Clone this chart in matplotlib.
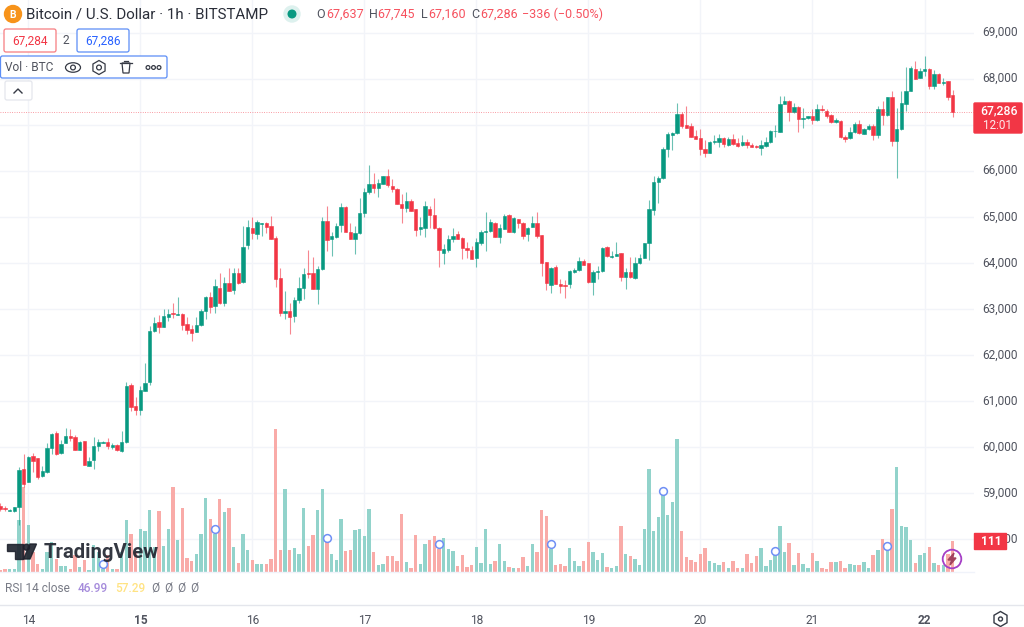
import numpy as np
import matplotlib
matplotlib.use("Agg")
import matplotlib.pyplot as plt
from matplotlib.patches import Circle, Ellipse, FancyBboxPatch, Polygon, Rectangle, RegularPolygon

plt.rcParams['font.family'] = ['Roboto', 'DejaVu Sans']

# hourly candles, first one is 13 Apr 18:00, last one 22 Apr 06:00
opens = [58720,58675,58620,58600,58690,59530,
    59250,59805,59754,59377,59450,59971,60297,59862,60094,60239,60210,59942,60138,59595,59710,60022,60094,60116,60007,60043,59920,
    60109,61354,60890,60804,61224,61419,62527,62715,62614,62831,62903,62867,62896,62664,62556,62498,62643,62954,63265,63063,63461,63120,63562,63417,63779,63584,64387,
    64764,64634,64850,64858,64800,64532,63663,62918,62947,62838,63193,63461,63779,63772,63439,63859,64901,64510,64554,
    64822,65206,64677,64525,64641,65075,65539,65705,65633,65712,65879,65669,65611,65278,65191,65350,65162,64728,64749,65162,65032,64749,64214,64286,64518,64626,64547,64322,64286,
    64105,64438,64677,64692,64873,64568,64742,65046,64670,64952,64865,64619,64778,64865,64597,64011,63526,63910,63548,63519,63540,63801,63837,64033,63989,63584,63808,63822,64337,64127,64156,64207,63685,63794,63671,63989,64105,64424,65148,65756,65835,66465,66785,
    66813,67233,66987,66972,66755,66711,66480,66393,66625,66625,66711,66559,66682,66610,66552,66632,66559,66538,66501,66545,66625,66857,66849,67450,67515,67269,67392,67131,67146,67182,67095,67341,67305,67211,67059,67081,66740,66704,66835,67016,66806,66900,66972,66776,67334,67204,67609,66646,66900,67450,67740,68210,68014,68174,68203,67848,68102,67913,67942,67638]
highs = [58790,58720,58650,58700,59560,59850,
    59800,59862,59770,59587,60094,60297,60347,60152,60420,60384,60260,60123,60138,59776,60210,60167,60130,60188,60094,60072,60347,
    61419,61396,61093,61325,61817,62628,62816,62867,62997,62997,63120,63265,62903,62830,62650,62830,62997,63280,63359,63642,63772,63685,63881,63881,63881,64800,64930,
    65003,64930,64872,64880,65017,64590,63895,63396,63120,63265,63685,63881,64279,64134,63939,65003,65235,64663,64870,
    65292,65235,64858,64800,65401,65618,66125,65944,65828,65886,66031,65821,65618,65495,65531,65380,65170,65003,65336,65235,65408,64770,64409,64605,64764,64692,64570,64460,64366,
    64532,64710,65097,64945,64895,64844,65061,65053,64985,64960,64880,64780,65025,65111,64605,64018,63910,63942,63656,63620,63850,63880,64120,64076,64003,63842,63931,64350,64366,64257,64460,64214,63881,64120,64134,64185,64435,65365,65893,65893,66523,66849,66849,
    67479,67284,67414,67045,66885,66900,66668,66654,66777,66791,66725,66725,66791,66719,66777,66690,66610,66560,66668,66726,66880,66990,67631,67624,67530,67465,67410,67356,67195,67334,67450,67428,67334,67232,67139,67103,66776,66943,67066,67103,66920,67016,67016,67414,67522,67609,67740,67356,67732,68261,68275,68384,68226,68500,68226,68190,68115,68022,67957,67754]
lows = [58620,58620,58610,58590,58310,59140,
    59240,59464,59312,59356,59443,59841,59834,59848,60094,60123,59935,59935,59602,59580,59515,59920,60087,59964,59964,59920,59898,
    60094,60789,60695,60695,61224,61339,62505,62483,62600,62744,62810,62860,62541,62454,62310,62490,62636,62780,62918,62903,63113,63070,63388,63316,63548,63555,64300,
    64518,64525,64583,64655,64510,63482,62845,62773,62454,62722,63120,63207,63678,63432,63106,63844,64257,64156,64547,
    64677,64670,64518,64185,64634,65003,65488,65524,65437,65705,65654,65531,65271,64858,65111,65126,64590,64605,64568,64749,64742,63910,63975,64243,64460,64510,64083,64098,64076,
    63917,64387,64264,64677,64554,64438,64735,64663,64656,64749,64518,64474,64771,64532,63721,63410,63338,63541,63338,63244,63446,63772,63830,63946,63555,63300,63641,63808,64134,64098,64149,63613,63425,63678,63657,63982,64098,64062,65039,65307,65814,66292,66451,
    66806,66936,66922,66726,66682,66342,66292,66378,66589,66509,66523,66538,66559,66523,66538,66501,66516,66501,66342,66523,66610,66740,66835,67450,67088,67262,66849,66922,67131,67016,67080,67305,67139,67044,67044,66719,66632,66697,66820,66806,66792,66885,66668,66719,67001,67190,66538,65850,66885,67305,67725,67986,68007,68058,67783,67771,67899,67870,67537,67160]
closes = [58650,58650,58640,58690,59500,59200,
    59775,59696,59356,59486,59971,60275,59848,60072,60239,60203,59942,60116,59609,59696,60022,60101,60116,60029,60051,59928,60101,
    61332,60876,60804,61238,61383,62527,62693,62614,62845,62896,62889,62889,62650,62541,62469,62650,62954,63265,63048,63497,63120,63569,63395,63779,63555,64351,64778,
    64648,64880,64865,64786,64518,63649,62903,62947,62824,63193,63461,63765,63765,63439,63866,64909,64503,64583,64800,
    65206,64677,64525,64641,65075,65546,65705,65625,65741,65879,65683,65604,65278,65198,65343,65133,64713,64771,65227,65046,64749,64272,64293,64511,64583,64518,64315,64272,64083,
    64445,64677,64699,64887,64568,64749,65017,64670,64967,64873,64590,64764,64865,64583,64004,63555,63895,63548,63504,63504,63830,63844,64033,63960,63577,63808,63822,64322,64141,64149,64192,63685,63794,63685,63996,64098,64424,65162,65763,65842,66473,66799,66828,
    67233,66972,66936,66740,66697,66465,66393,66632,66646,66719,66581,66682,66581,66545,66632,66559,66523,66516,66552,66625,66864,66871,67450,67515,67269,67377,67131,67146,67182,67095,67334,67312,67196,67059,67103,66733,66697,66835,67016,66813,66900,66965,66776,67334,67204,67595,66646,66907,67464,67732,68225,68000,68174,68203,67848,68102,67913,67935,67609,67283]
volumes = [6,12,12,12,186,306,
    168,72,28,10,72,107,48,22,22,10,60,18,42,6,96,72,12,60,10,12,72,
    186,138,72,156,146,222,90,218,92,156,306,114,232,52,38,66,138,268,190,138,264,215,232,90,32,136,80,
    44,30,30,28,46,516,78,298,78,85,66,232,94,132,224,300,108,66,44,
    190,74,80,152,155,130,226,72,24,28,58,56,41,210,36,16,132,28,102,114,130,84,124,83,77,20,60,17,24,
    89,31,155,28,41,102,38,17,13,13,53,22,102,72,222,200,84,24,28,22,85,41,22,38,108,71,44,68,18,13,22,164,66,56,47,25,154,370,149,198,276,204,251,
    480,146,53,44,36,66,85,41,34,24,35,16,41,13,13,66,32,56,85,22,44,60,166,71,104,25,68,30,13,68,41,13,10,35,35,41,16,30,24,24,35,13,60,80,118,78,226,378,164,162,116,32,60,68,89,32,24,24,66,111]

day_ticks = [6, 30, 54, 78, 102, 126, 150, 174, 198]
day_labels = ['14', '15', '16', '17', '18', '19', '20', '21', '22']
bold_days = ['15', '22']
price_ticks = [58000, 59000, 60000, 61000, 62000, 63000, 64000, 65000, 66000, 67000, 68000, 69000]
price_labels = ['58,000', '59,000', '60,000', '61,000', '62,000', '63,000', '64,000', '65,000', '66,000', '67,000', '68,000', '69,000']
event_bars = [22, 46, 70, 94, 118, 142, 166, 190]
last_price = 67286
last_volume = 111

GREEN = '#089981'
RED = '#F23645'
GRID = '#F2F4F9'
TEXT = '#50535E'
BLUE = '#2962FF'
VOL_SCALE = 6.03  # price units per BTC of volume, the bars sit on the pane floor

opens = np.array(opens)
highs = np.array(highs)
lows = np.array(lows)
closes = np.array(closes)
volumes = np.array(volumes)
x = np.arange(len(closes))
up = closes >= opens
colors = np.where(up, GREEN, RED)
pale = np.where(up, '#92D3CB', '#F9ABA8')

fig = plt.figure(figsize=(10.24, 6.27), dpi=100)
ax = fig.add_axes([0, 1 - 572 / 627, 974 / 1024, 572 / 627])
ax.set_xlim(-0.07, 208.6)
ymin, ymax = 57285, 69708
ax.set_ylim(ymin, ymax)

ax.set_axisbelow(True)
ax.grid(True, color=GRID, lw=1)
for s in ax.spines.values():
    s.set_visible(False)
ax.set_xticks(day_ticks)
ax.set_xticklabels(day_labels)
ax.set_yticks(price_ticks)
ax.set_yticklabels(price_labels)
ax.yaxis.tick_right()
ax.tick_params(axis='both', length=0, labelsize=8.6, labelcolor=TEXT)
ax.tick_params(axis='x', pad=30.3)
ax.tick_params(axis='y', pad=6)
for lab in ax.get_yticklabels():
    lab.set_verticalalignment('center')
for lab in ax.get_xticklabels():
    if lab.get_text() in bold_days:
        lab.set_fontweight('bold')

# volume bars
ax.bar(x, volumes * VOL_SCALE, bottom=ymin, width=0.72, color=pale, zorder=1)

# candles
ax.vlines(x, lows, highs, colors=colors, lw=0.8, alpha=0.6, zorder=2)
ax.bar(x, np.abs(closes - opens), bottom=np.minimum(opens, closes), width=0.72,
       color=colors, edgecolor=colors, lw=0.4, zorder=3)

ax.axhline(last_price, color=RED, lw=0.6, alpha=0.65, ls=(0, (1, 1.8)), zorder=4)

# event markers on the volume bars
ev = np.array(event_bars)
ax.plot(ev, ymin + (volumes[ev] + 16) * VOL_SCALE, 'o', ms=5.6, mfc='white', mec='#6F8FF5', mew=1.1, zorder=5)

# everything else is interface chrome, drawn in pixel coordinates
ui = fig.add_axes([0, 0, 1, 1], zorder=10)
ui.set_xlim(0, 1024)
ui.set_ylim(627, 0)
ui.axis('off')
ui.patch.set_alpha(0)

ui.plot([0, 974], [572, 572], color='#F0F3FA', lw=1)
ui.plot([0, 1024], [605, 605], color='#E4E6EC', lw=1)


def box(x0, y0, w, h, ec, fc='white'):
    ui.add_patch(FancyBboxPatch((x0 + 2, y0 + 2), w - 4, h - 4, boxstyle='round,pad=2', ec=ec, fc=fc, lw=0.9))


# title row
ui.add_patch(Circle((13, 14), 8.5, color='#F7931A'))
ui.text(13, 14.5, 'B', color='white', fontsize=7.5, fontweight='bold', ha='center', va='center')
ui.text(26, 14.5, 'Bitcoin / U.S. Dollar · 1h · BITSTAMP', color='#2A2E39', fontsize=10.9, va='center')
ui.add_patch(Circle((292, 14), 8, color='#DDF1EE'))
ui.add_patch(Circle((292, 14), 3.8, color=GREEN))
ohlc = [(316, 'O', TEXT), (326, '67,637', '#F6525F'), (369, 'H', TEXT), (377, '67,745', '#F6525F'),
        (421.5, 'L', TEXT), (428, '67,160', '#F6525F'), (471.5, 'C', TEXT), (480, '67,286', '#F6525F'),
        (522.5, '−336 (−0.50%)', '#F6525F')]
for px, s, c in ohlc:
    ui.text(px, 14.5, s, color=c, fontsize=9.0, va='center')

# buy / sell boxes
box(4, 29, 52, 23, '#F77C80')
ui.text(30, 41, '67,284', color=RED, fontsize=8.6, ha='center', va='center')
ui.text(66, 41, '2', color=TEXT, fontsize=8.6, ha='center', va='center')
box(77, 29, 52, 23, '#5B8DF6')
ui.text(103, 41, '67,286', color=BLUE, fontsize=8.6, ha='center', va='center')

# volume legend with its icons
box(0.5, 56, 166.5, 22, '#5B8DF6')
ui.text(5, 67.5, 'Vol · BTC', color=TEXT, fontsize=8.6, va='center')
ui.add_patch(Ellipse((73, 67.5), 15, 9.5, fc='none', ec='#363A45', lw=0.9))
ui.add_patch(Circle((73, 67.5), 2.4, fc='none', ec='#363A45', lw=0.9))
ui.add_patch(RegularPolygon((99, 67.5), 6, radius=7, fc='none', ec='#363A45', lw=0.9))
ui.add_patch(Circle((99, 67.5), 2.4, fc='none', ec='#363A45', lw=0.9))
ui.add_patch(Polygon([[122, 63], [123, 73], [129, 73], [130, 63]], closed=True, fc='none', ec='#363A45', lw=0.9))
ui.plot([120, 132], [62.5, 62.5], color='#363A45', lw=0.9)
ui.plot([124, 128], [60.5, 60.5], color='#363A45', lw=0.9)
for px in [148, 153.5, 159]:
    ui.add_patch(Circle((px, 67.5), 1.9, fc='none', ec='#363A45', lw=0.9))

# collapse button
box(5, 81, 27, 19, '#E4E6EC')
ui.plot([14, 18, 22], [93, 89, 93], color='#363A45', lw=1)

# watermark
wm = '#1E222D'
ui.add_patch(Polygon([[7, 544], [23, 544], [23, 559], [15, 559], [15, 551], [7, 551]], closed=True, color=wm, alpha=0.9))
ui.add_patch(Circle((26.5, 547.2), 3, color=wm, alpha=0.9))
ui.add_patch(Polygon([[30, 544], [36.5, 544], [30, 559], [23.5, 559]], closed=True, color=wm, alpha=0.9))
ui.text(44, 552, 'TradingView', color=wm, alpha=0.9, fontsize=14.6, fontweight='bold', va='center')

# price tags
ui.add_patch(FancyBboxPatch((975, 104), 46, 28, boxstyle='round,pad=1', color=RED))
ui.text(1018, 111, f'{last_price:,}', color='white', fontsize=8.8, fontweight='medium', ha='right', va='center')
ui.text(1012, 125.5, '12:01', color='white', fontsize=8.4, ha='right', va='center', alpha=0.9)
ui.add_patch(Rectangle((974, 533), 32, 16, color=RED))
ui.text(991, 541.5, str(last_volume), color='white', fontsize=8.6, fontweight='bold', ha='center', va='center')

# purple replay badge on the last bar
ui.add_patch(Circle((952, 559), 9.3, fc='none', ec='#A53FC6', lw=1.3))
ui.add_patch(Polygon([[954, 553], [948, 560], [951.5, 560], [950, 565], [956, 558], [952.5, 558]], closed=True, color='#A3435E'))

# RSI legend
ui.text(5, 588.5, 'RSI 14 close', color='#787B86', fontsize=8.6, va='center')
ui.text(78, 588.5, '46.99', color='#A58BDB', fontsize=8.6, fontweight='medium', va='center')
ui.text(115, 588.5, '57.29', color='#FFE383', fontsize=8.6, fontweight='medium', va='center')
for px in [155, 168.5, 181.5, 194.5]:
    ui.text(px, 588.5, 'Ø', color='#787B86', fontsize=8.6, ha='center', va='center')

# settings hexagon bottom right
ui.add_patch(RegularPolygon((1000.5, 619), 6, radius=7.5, fc='none', ec='#363A45', lw=1))
ui.add_patch(Circle((1000.5, 619), 2, fc='none', ec='#363A45', lw=1))

fig.savefig('out.png', dpi=100, facecolor='white')
